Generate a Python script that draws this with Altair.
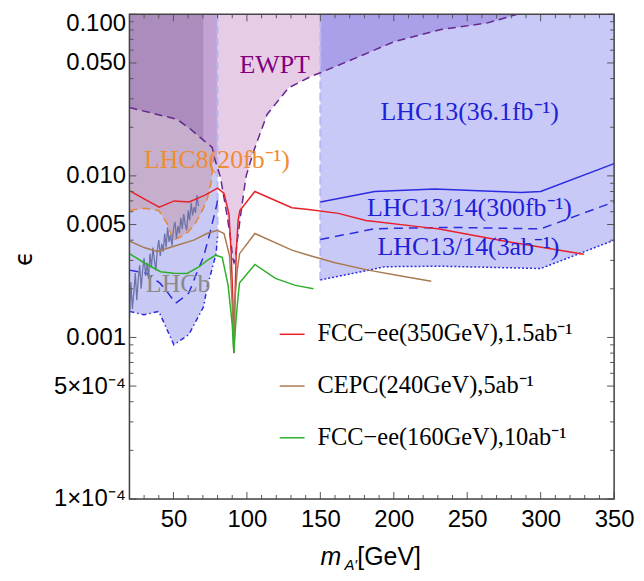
import altair as alt
import pandas as pd

# ---------------- data ----------------
# EWPT bound (dashed purple), excluded above
ewpt_x = [20, 35, 52.5, 61.5, 70.5, 76.4, 78, 80, 82, 86.6, 89, 90.3, 91.2, 92.2, 93.5, 95.6, 98, 99.5,
          104.7, 113.7, 128.4, 144.2, 150, 169, 200.7, 232.2, 264, 284, 350]
ewpt_y = [0.0265, 0.0245, 0.0224, 0.0195, 0.0166, 0.0150, 0.0128, 0.0112, 0.0098, 0.0056, 0.0040, 0.0031,
          0.0029, 0.0031, 0.0040, 0.0056, 0.0081, 0.0100, 0.0143, 0.0240, 0.0351, 0.0415, 0.0435, 0.0513,
          0.0680, 0.0805, 0.0885, 0.1, 0.1]

# LHC8 (20 fb^-1) bound (orange dashed)
lhc8_x = [20, 30, 40, 45.5, 50, 55, 60, 65, 70, 73, 75.5, 77.5]
lhc8_y = [0.0061, 0.0063, 0.0061, 0.0051, 0.0040, 0.0042, 0.0045, 0.0051, 0.0062, 0.0072, 0.0090, 0.0135]

# low-mass LHC13/14 projections
low3ab_x = [20, 30, 40, 50.3, 60.4, 70.5, 73, 76, 79, 80]
low3ab_y = [0.00145, 0.00138, 0.00145, 0.00090, 0.00104, 0.00155, 0.00206, 0.0026, 0.0033, 0.0042]
low300_x = [20, 32, 41, 46, 51.4, 55, 60.4, 65, 70.5, 75, 79.6, 80.5]
low300_y = [0.00261, 0.00249, 0.00216, 0.0019, 0.00163, 0.00172, 0.00188, 0.0024, 0.00316, 0.0045, 0.0067, 0.0075]

# high-mass LHC13 bounds
hi36_x = [150, 187, 228, 286.5, 300, 350]
hi36_y = [0.0069, 0.0080, 0.0083, 0.0079, 0.0080, 0.0119]
hi300_x = [150, 187, 237, 300, 350]
hi300_y = [0.00404, 0.00471, 0.0048, 0.0047, 0.0069]
hi3ab_x = [150, 180.3, 193.8, 232, 300, 350]
hi3ab_y = [0.00227, 0.00258, 0.00274, 0.00276, 0.00267, 0.0040]

# region edges (vertical boundaries)
edge_x = [80, 150]
edge_lo = [0.0042, 0.00227]

# LHCb
lhcb_x = list(range(20, 68))
lhcb_y = [0.0013, 0.0022, 0.0015, 0.0019, 0.0025, 0.0017, 0.0023, 0.0028, 0.0020, 0.0026, 0.0031, 0.0024,
          0.0029, 0.0023, 0.0033, 0.0027, 0.0036, 0.0030, 0.0026, 0.0035, 0.0040, 0.0032, 0.0038, 0.0034,
          0.0044, 0.0036, 0.0048, 0.0039, 0.0043, 0.0037, 0.0047, 0.0052, 0.0041, 0.0049, 0.0044, 0.0055,
          0.0047, 0.0058, 0.0050, 0.0046, 0.0061, 0.0053, 0.0068, 0.0057, 0.0064, 0.0059, 0.0076, 0.0065]

# e+e- collider projections
fcc350_x = [20, 30, 40.3, 50.5, 60.6, 71.5, 80, 84.4, 87.8, 89.3, 90.5, 91.1, 91.8, 92.7, 94, 95.2, 105.4,
            130.6, 142, 162.3, 181, 221, 230, 275, 329.4]
fcc350_y = [0.0081, 0.0072, 0.0064, 0.0070, 0.0069, 0.0076, 0.0084, 0.0078, 0.0058, 0.0033, 0.0016, 0.0008,
            0.0016, 0.0033, 0.0053, 0.0061, 0.0080, 0.00635, 0.0062, 0.00586, 0.0053, 0.0048, 0.0047,
            0.00395, 0.00327]
cepc_x = [20, 30, 39, 50.3, 63.8, 72.8, 79.8, 84.4, 88.2, 90, 91.1, 91.6, 93.4, 95, 105.4, 130.6, 142, 160,
          182.6, 205, 225.5]
cepc_y = [0.00395, 0.0036, 0.0034, 0.00367, 0.0040, 0.0044, 0.0046, 0.0044, 0.0032, 0.0016, 0.0008, 0.0016,
          0.0026, 0.0033, 0.0044, 0.00347, 0.00323, 0.0029, 0.00261, 0.0024, 0.00223]
fcc160_x = [20, 30, 41.2, 50, 59.3, 67.2, 73, 78.7, 83.2, 87.2, 90, 91.1, 92.3, 94, 95, 105.4, 119.4, 133, 145.3]
fcc160_y = [0.0033, 0.0029, 0.00255, 0.0025, 0.00249, 0.00273, 0.0030, 0.00323, 0.00313, 0.0021, 0.0012,
            0.0008, 0.0012, 0.0018, 0.00218, 0.00283, 0.00232, 0.0021, 0.0020]
series_names = ["FCC−ee(350GeV),1.5ab⁻¹", "CEPC(240GeV),5ab⁻¹", "FCC−ee(160GeV),10ab⁻¹"]
series_colors = ["#e8202a", "#a87a52", "#2cb02c"]

# annotations
ann_text = ["EWPT", "LHC13(36.1fb⁻¹)", "LHC13/14(300fb⁻¹)", "LHC13/14(3ab⁻¹)", "LHC8(20fb⁻¹)", "LHCb"]
ann_x = [118.9, 251.7, 251.5, 250.8, 79.6, 53.2]
ann_y = [0.0485, 0.0249, 0.0063, 0.00361, 0.0126, 0.00214]
ann_color = ["#800080", "#2020d8", "#2020d8", "#2020d8", "#f08c32", "#8a8a8a"]

# axis ticks
x_major = [50, 100, 150, 200, 250, 300, 350]
x_minor = [30, 40, 60, 70, 80, 90, 110, 120, 130, 140, 160, 170, 180, 190, 210, 220, 230, 240,
           260, 270, 280, 290, 310, 320, 330, 340]
y_major = [0.0001, 0.0005, 0.001, 0.005, 0.01, 0.05, 0.1]
y_labels = ["1×10⁻⁴", "5×10⁻⁴", "0.001", "0.005", "0.010", "0.050", "0.100"]
y_minor = [0.0002, 0.0003, 0.0004, 0.0006, 0.0007, 0.0008, 0.0009,
           0.002, 0.003, 0.004, 0.006, 0.007, 0.008, 0.009,
           0.02, 0.03, 0.04, 0.06, 0.07, 0.08, 0.09]

# ---------------- chart ----------------
W, H = 487, 487
XS = alt.Scale(domain=[20, 350], nice=False, zero=False)
YS = alt.Scale(type="log", domain=[0.0001, 0.1], nice=False)

label_expr = " : ".join(
    f"abs(datum.value - {v}) < {v * 1e-6} ? '{t}'" for v, t in zip(y_major, y_labels)
) + " : ''"

X_AX = alt.Axis(values=x_major, title=None, ticks=False, domain=False, grid=False,
                labelFont="Liberation Sans", labelFontSize=24, labelColor="black",
                labelPadding=9, labelFlush=False, labelOverlap=False)
Y_AX = alt.Axis(values=y_major, labelExpr=label_expr, title="ϵ", titleFont="DejaVu Sans",
                titleFontSize=24, titleFontWeight="normal", titleColor="black",
                titleX=-105, titleY=245, titleAngle=270, titleAlign="center", titleBaseline="middle",
                ticks=False, domain=False, grid=False,
                labelFont="Liberation Sans", labelFontSize=24, labelColor="black",
                labelOffset={"condition": {"test": "datum.value > 0.09", "value": 9}, "value": 0},
                labelPadding=4, labelFlush=False, labelOverlap=False)


def X(f="x"):
    return alt.X(f"{f}:Q", scale=XS, axis=X_AX)


def Y(f="y"):
    return alt.Y(f"{f}:Q", scale=YS, axis=Y_AX)


def frame(x, y):
    return pd.DataFrame({"x": x, "y": y, "top": [0.1] * len(x)})


def area(x, y, color):
    return alt.Chart(frame(x, y)).mark_area(color=color, opacity=1, clip=True).encode(
        x=X(), y=Y(), y2="top:Q")


def line(x, y, color, dash=None, width=1.5):
    kw = dict(color=color, strokeWidth=width, clip=True)
    if dash:
        kw["strokeDash"] = dash
    return alt.Chart(frame(x, y)).mark_line(**kw).encode(x=X(), y=Y())


layers = []
# excluded / sensitive regions
layers.append(area(low3ab_x, low3ab_y, "#c9c9f6"))
layers.append(area(hi3ab_x, hi3ab_y, "#c9c9f8"))
layers.append(area(lhc8_x, lhc8_y, "#c6afcd"))
segs = [(20, 70.5, "#ab8cbd"), (70.5, 80, "#c2a3d4"), (80, 150, "#e7cce6"), (150, 350, "#a9a0e9")]
for lo, hi, col in segs:
    sx = [a for a in ewpt_x if lo <= a <= hi]
    sy = [b for a, b in zip(ewpt_x, ewpt_y) if lo <= a <= hi]
    layers.append(area(sx, sy, col))

# vertical edges of the LHC regions
edges = pd.DataFrame({"x": edge_x, "lo": edge_lo, "top": [0.1, 0.1]})
layers.append(alt.Chart(edges).mark_rule(color="#b8b8f2", strokeWidth=2, strokeDash=[8, 4]).encode(
    x=X(), y=Y("lo"), y2="top:Q"))

# boundary lines
layers.append(line([a for a in ewpt_x if a <= 284], [b for a, b in zip(ewpt_x, ewpt_y) if a <= 284],
                   "#66288c", [8, 5]))
layers.append(line(lhc8_x, lhc8_y, "#e8873a", [8, 5]))
layers.append(line(low300_x, low300_y, "#2b2be0", [9, 6]))
layers.append(line(low3ab_x, low3ab_y, "#2b2be0", [5, 3, 1.5, 3]))
layers.append(line(hi36_x, hi36_y, "#2b2be0"))
layers.append(line(hi300_x, hi300_y, "#2b2be0", [9, 6]))
layers.append(line(hi3ab_x, hi3ab_y, "#2b2be0", [2, 2]))
layers.append(line(lhcb_x, lhcb_y, "#6e74a8", width=1.3))

# collider projections (with legend)
fcc = pd.concat([
    pd.DataFrame({"x": xx, "y": yy, "name": n})
    for xx, yy, n in zip([fcc350_x, cepc_x, fcc160_x], [fcc350_y, cepc_y, fcc160_y], series_names)
])
layers.append(alt.Chart(fcc).mark_line(strokeWidth=1.5, clip=True).encode(
    x=X(), y=Y(),
    color=alt.Color("name:N", sort=series_names,
                    scale=alt.Scale(domain=series_names, range=series_colors),
                    legend=alt.Legend(orient="none", legendX=150, legendY=308, title=None,
                                      symbolType="stroke", symbolSize=625, symbolStrokeWidth=1.5,
                                      labelFont="Liberation Serif", labelFontSize=24.5,
                                      labelColor="black", labelOffset=12, rowPadding=27,
                                      padding=0, labelLimit=400))))

# annotations
for t, ax_, ay_, c in zip(ann_text, ann_x, ann_y, ann_color):
    d = pd.DataFrame({"x": [ax_], "y": [ay_], "t": [t]})
    layers.append(alt.Chart(d).mark_text(font="Liberation Serif", fontSize=26, color=c,
                                         align="center", baseline="middle").encode(
        x=X(), y=Y(), text="t:N"))

# inward ticks on all four sides
tick_col = "#555555"
xm = pd.DataFrame({"x": x_major})
xn = pd.DataFrame({"x": x_minor})
ym = pd.DataFrame({"y": y_major})
yn = pd.DataFrame({"y": y_minor})
for dd, ln in [(xm, 7), (xn, 4)]:
    layers.append(alt.Chart(dd).mark_rule(color=tick_col, strokeWidth=1).encode(
        x=X(), y=alt.value(H), y2=alt.value(H - ln)))
    layers.append(alt.Chart(dd).mark_rule(color=tick_col, strokeWidth=1).encode(
        x=X(), y=alt.value(0), y2=alt.value(ln)))
for dd, ln in [(ym, 7), (yn, 4)]:
    layers.append(alt.Chart(dd).mark_rule(color=tick_col, strokeWidth=1).encode(
        y=Y(), x=alt.value(0), x2=alt.value(ln)))
    layers.append(alt.Chart(dd).mark_rule(color=tick_col, strokeWidth=1).encode(
        y=Y(), x=alt.value(W), x2=alt.value(W - ln)))

# frame
one = pd.DataFrame({"a": [0]})
layers.append(alt.Chart(one).mark_rect(filled=False, stroke="#444444", strokeWidth=1.5).encode(
    x=alt.value(0), x2=alt.value(W), y=alt.value(0), y2=alt.value(H)))

# x-axis title  m_{A'}[GeV]
layers.append(alt.Chart(one).mark_text(text="m", font="Liberation Sans", fontStyle="italic",
                                       fontSize=25, align="left", baseline="alphabetic",
                                       color="black").encode(x=alt.value(192), y=alt.value(553)))
layers.append(alt.Chart(one).mark_text(text="A′", font="Liberation Sans", fontStyle="italic",
                                       fontSize=15, align="left", baseline="alphabetic",
                                       color="black").encode(x=alt.value(216), y=alt.value(558)))
layers.append(alt.Chart(one).mark_text(text="[GeV]", font="Liberation Sans",
                                       fontSize=25, align="left", baseline="alphabetic",
                                       color="black").encode(x=alt.value(229), y=alt.value(553)))

chart = alt.layer(*layers).properties(
    width=W, height=H,
    autosize=alt.AutoSizeParams(type="none"),
    padding={"left": 122, "top": 5, "right": 22, "bottom": 73},
).configure_view(stroke=None).configure(background="white")

chart.save("out.html", embed_options={"renderer": "svg", "actions": False})
